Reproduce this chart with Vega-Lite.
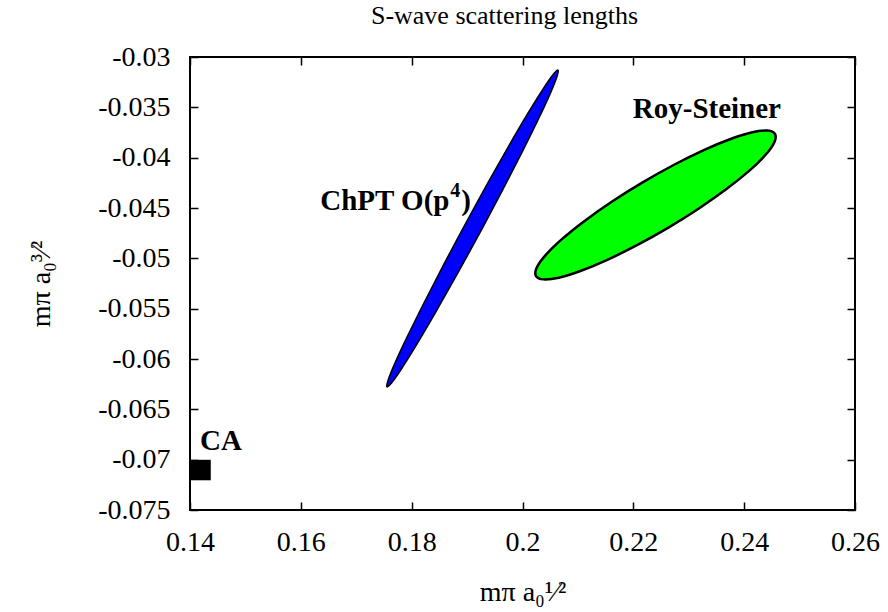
{
  "$schema": "https://vega.github.io/schema/vega-lite/v6.json",
  "autosize": "none",
  "width": 665,
  "height": 453,
  "padding": {"left": 190, "top": 57, "right": 33, "bottom": 102},
  "background": "white",
  "title": {"text": "S-wave scattering lengths", "font": "Liberation Serif", "fontSize": 26, "fontWeight": "normal", "color": "black", "anchor": "middle", "dx": -18, "baseline": "alphabetic", "offset": -7},
  "config": {
    "view": {"stroke": "black", "strokeWidth": 2},
    "axis": {"grid": false, "domain": false, "ticks": true, "tickColor": "black", "tickWidth": 1.5, "tickSize": -8,
      "labelFont": "Liberation Serif", "labelFontSize": 28, "labelColor": "black",
      "titleFont": "Liberation Serif", "titleFontSize": 28, "titleFontWeight": "normal", "titleColor": "black"}
  },
  "datasets": {
    "chpt": [
      {"i": 0, "x": 0.20641, "y": -0.03130}, {"i": 1, "x": 0.20623, "y": -0.03194}, {"i": 2, "x": 0.20502, "y": -0.03361},
      {"i": 3, "x": 0.20284, "y": -0.03620}, {"i": 4, "x": 0.19986, "y": -0.03952}, {"i": 5, "x": 0.19628, "y": -0.04335},
      {"i": 6, "x": 0.19233, "y": -0.04744}, {"i": 7, "x": 0.18829, "y": -0.05150}, {"i": 8, "x": 0.18444, "y": -0.05525},
      {"i": 9, "x": 0.18103, "y": -0.05845}, {"i": 10, "x": 0.17829, "y": -0.06087}, {"i": 11, "x": 0.17643, "y": -0.06234},
      {"i": 12, "x": 0.17555, "y": -0.06277}, {"i": 13, "x": 0.17573, "y": -0.06213}, {"i": 14, "x": 0.17694, "y": -0.06046},
      {"i": 15, "x": 0.17912, "y": -0.05788}, {"i": 16, "x": 0.18210, "y": -0.05456}, {"i": 17, "x": 0.18568, "y": -0.05072},
      {"i": 18, "x": 0.18963, "y": -0.04664}, {"i": 19, "x": 0.19367, "y": -0.04258}, {"i": 20, "x": 0.19753, "y": -0.03882},
      {"i": 21, "x": 0.20093, "y": -0.03563}, {"i": 22, "x": 0.20367, "y": -0.03321}, {"i": 23, "x": 0.20553, "y": -0.03174}
    ],
    "roy": [
      {"i": 0, "x": 0.24556, "y": -0.03765}, {"i": 1, "x": 0.24545, "y": -0.03846}, {"i": 2, "x": 0.24387, "y": -0.03971},
      {"i": 3, "x": 0.24094, "y": -0.04129}, {"i": 4, "x": 0.23686, "y": -0.04310}, {"i": 5, "x": 0.23190, "y": -0.04502},
      {"i": 6, "x": 0.22640, "y": -0.04692}, {"i": 7, "x": 0.22074, "y": -0.04867}, {"i": 8, "x": 0.21530, "y": -0.05015},
      {"i": 9, "x": 0.21045, "y": -0.05126}, {"i": 10, "x": 0.20653, "y": -0.05192}, {"i": 11, "x": 0.20379, "y": -0.05209},
      {"i": 12, "x": 0.20244, "y": -0.05176}, {"i": 13, "x": 0.20255, "y": -0.05094}, {"i": 14, "x": 0.20413, "y": -0.04970},
      {"i": 15, "x": 0.20706, "y": -0.04812}, {"i": 16, "x": 0.21114, "y": -0.04631}, {"i": 17, "x": 0.21610, "y": -0.04438},
      {"i": 18, "x": 0.22160, "y": -0.04248}, {"i": 19, "x": 0.22727, "y": -0.04073}, {"i": 20, "x": 0.23271, "y": -0.03925},
      {"i": 21, "x": 0.23755, "y": -0.03815}, {"i": 22, "x": 0.24148, "y": -0.03748}, {"i": 23, "x": 0.24421, "y": -0.03731}
    ],
    "ca": [{"x": 0.1419, "y": -0.07103}],
    "labels": [
      {"label": "ChPT O(p", "x": 0.1635, "y": -0.0452},
      {"label": "Roy-Steiner", "x": 0.2199, "y": -0.03606},
      {"label": "CA", "x": 0.1418, "y": -0.06904}
    ],
    "chptlab": [{"x": 0.1635, "y": -0.0452}]
  },
  "layer": [
    {
      "data": {"name": "chpt"},
      "mark": {"type": "line", "fill": "#0000ff", "stroke": "black", "strokeWidth": 1.5, "interpolate": "cardinal-closed"},
      "encoding": {
        "x": {"field": "x", "type": "quantitative", "scale": {"domain": [0.14, 0.26], "nice": false, "zero": false},
          "axis": {"orient": "bottom", "values": [0.14, 0.16, 0.18, 0.2, 0.22, 0.24, 0.26], "labelExpr": "format(datum.value, '.2~f')", "labelPadding": 26, "labelFlush": false, "labelOverlap": false,
            "title": "mπ a₀¹⁄²", "titlePadding": 22}},
        "y": {"field": "y", "type": "quantitative", "scale": {"domain": [-0.075, -0.03], "nice": false, "zero": false},
          "axis": {"orient": "left", "values": [-0.075, -0.07, -0.065, -0.06, -0.055, -0.05, -0.045, -0.04, -0.035, -0.03], "labelExpr": "replace(format(datum.value, '.3~f'), '−', '-')", "labelPadding": 28, "labelFlush": false, "labelOverlap": false,
            "title": "mπ a₀³⁄²", "titlePadding": 42}},
        "order": {"field": "i", "type": "quantitative"}
      }
    },
    {
      "data": {"name": "roy"},
      "mark": {"type": "line", "fill": "#00ff00", "stroke": "black", "strokeWidth": 2.5, "interpolate": "cardinal-closed"},
      "encoding": {
        "x": {"field": "x", "type": "quantitative", "scale": {"domain": [0.14, 0.26], "nice": false, "zero": false}, "axis": null},
        "y": {"field": "y", "type": "quantitative", "scale": {"domain": [-0.075, -0.03], "nice": false, "zero": false}, "axis": null},
        "order": {"field": "i", "type": "quantitative"}
      }
    },
    {
      "data": {"name": "labels"},
      "mark": {"type": "text", "font": "Liberation Serif", "fontWeight": "bold", "fontSize": 29, "align": "left", "baseline": "alphabetic", "color": "black"},
      "encoding": {
        "x": {"field": "x", "type": "quantitative", "scale": {"domain": [0.14, 0.26], "nice": false, "zero": false}, "axis": null},
        "y": {"field": "y", "type": "quantitative", "scale": {"domain": [-0.075, -0.03], "nice": false, "zero": false}, "axis": null},
        "text": {"field": "label"}
      }
    },
    {
      "data": {"name": "chptlab"},
      "mark": {"type": "text", "font": "Liberation Serif", "fontWeight": "bold", "fontSize": 20, "align": "left", "baseline": "alphabetic", "color": "black", "dx": 130, "dy": -13, "text": "4"},
      "encoding": {
        "x": {"field": "x", "type": "quantitative", "scale": {"domain": [0.14, 0.26], "nice": false, "zero": false}, "axis": null},
        "y": {"field": "y", "type": "quantitative", "scale": {"domain": [-0.075, -0.03], "nice": false, "zero": false}, "axis": null}
      }
    },
    {
      "data": {"name": "chptlab"},
      "mark": {"type": "text", "font": "Liberation Serif", "fontWeight": "bold", "fontSize": 29, "align": "left", "baseline": "alphabetic", "color": "black", "dx": 141, "text": ")"},
      "encoding": {
        "x": {"field": "x", "type": "quantitative", "scale": {"domain": [0.14, 0.26], "nice": false, "zero": false}, "axis": null},
        "y": {"field": "y", "type": "quantitative", "scale": {"domain": [-0.075, -0.03], "nice": false, "zero": false}, "axis": null}
      }
    },
    {
      "data": {"name": "ca"},
      "mark": {"type": "square", "size": 420, "filled": true, "color": "black", "opacity": 1},
      "encoding": {
        "x": {"field": "x", "type": "quantitative", "scale": {"domain": [0.14, 0.26], "nice": false, "zero": false},
          "axis": {"orient": "top", "values": [0.14, 0.16, 0.18, 0.2, 0.22, 0.24, 0.26], "labels": false, "title": null}},
        "y": {"field": "y", "type": "quantitative", "scale": {"domain": [-0.075, -0.03], "nice": false, "zero": false},
          "axis": {"orient": "right", "values": [-0.075, -0.07, -0.065, -0.06, -0.055, -0.05, -0.045, -0.04, -0.035, -0.03], "labels": false, "title": null}}
      }
    }
  ],
  "resolve": {"axis": {"x": "independent", "y": "independent"}}
}
